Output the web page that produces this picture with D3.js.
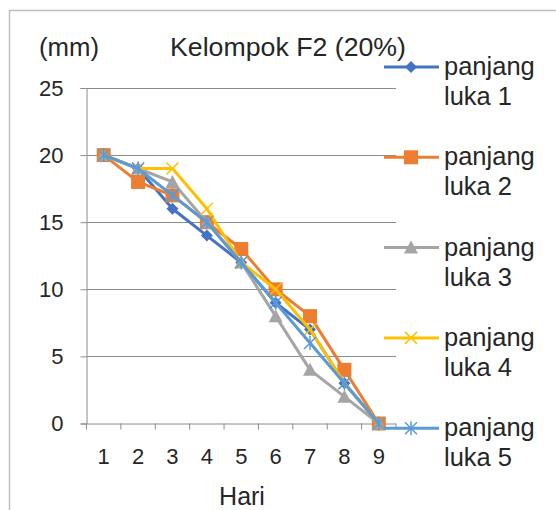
<!DOCTYPE html>
<html><head><meta charset="utf-8">
<script src="https://cdn.jsdelivr.net/npm/d3@7"></script>
<style>body{margin:0;background:#fff;} svg{display:block;}</style>
</head><body>
<script>
const categories = ["1","2","3","4","5","6","7","8","9"];
const yTicks = [0,5,10,15,20,25];
const seriesNames = ["panjang luka 1","panjang luka 2","panjang luka 3","panjang luka 4","panjang luka 5"];
const luka1 = [20,19,16,14,12,9,7,3,0];
const luka2 = [20,18,17,15,13,10,8,4,0];
const luka3 = [20,19,18,15,12,8,4,2,0];
const luka4 = [20,19,19,16,12,10,7,3,0];
const luka5 = [20,19,17,15,12,9,6,3,0];
const colors = ["#4472C4","#ED7D31","#A5A5A5","#FFC000","#5B9BD5"];
const symbols = ["diamond","square","triangle","x","star"];
const seriesVals = [luka1,luka2,luka3,luka4,luka5];

(function(){
const W=556,H=510;
const svg=d3.select("body").append("svg").attr("width",W).attr("height",H);
const font="Liberation Sans, Arial, sans-serif";
const txt="#262626";
// frame
svg.append("path").attr("d","M9.5,510 L9.5,10.5 L556,10.5").attr("fill","none").attr("stroke","#bfbfbf").attr("stroke-width",1.5);

const pL=86.5,pR=396,pT=88,pB=423.5;
const x=d3.scaleBand().domain(categories).range([pL,pR]);
const y=d3.scaleLinear().domain([0,25]).range([pB,pT]);

// gridlines
svg.append("g").selectAll("line").data(yTicks.filter(d=>d>0)).join("line")
 .attr("x1",pL).attr("x2",pR).attr("y1",d=>Math.round(y(d))+0.5).attr("y2",d=>Math.round(y(d))+0.5)
 .attr("stroke","#8c8c8c").attr("stroke-width",1);

// y axis
const yAx=svg.append("g").attr("transform",`translate(${pL},0)`)
 .call(d3.axisLeft(y).tickValues(yTicks).tickSize(6).tickPadding(17));
yAx.select(".domain").attr("stroke","#8c8c8c");
yAx.selectAll(".tick line").attr("stroke","#8c8c8c");
yAx.selectAll("text").attr("font-family",font).attr("font-size",22).attr("fill",txt);

// x axis
const xAx=svg.append("g").attr("transform",`translate(0,${pB})`)
 .call(d3.axisBottom(x).tickSize(0).tickPadding(25));
xAx.select(".domain").attr("stroke","#8c8c8c").attr("d",`M${pL},0.5H${pR}`);
xAx.selectAll("text").attr("font-family",font).attr("font-size",22).attr("fill",txt);
svg.append("g").selectAll("line").data(d3.range(categories.length+1)).join("line")
 .attr("x1",i=>pL+i*x.step()).attr("x2",i=>pL+i*x.step())
 .attr("y1",pB).attr("y2",pB+6).attr("stroke","#8c8c8c");

// titles
svg.append("text").attr("x",170).attr("y",56).attr("font-family",font).attr("font-size",25).attr("fill",txt)
 .attr("textLength",236).attr("lengthAdjust","spacingAndGlyphs").text("Kelompok F2 (20%)");
svg.append("text").attr("x",39).attr("y",56).attr("font-family",font).attr("font-size",25).attr("fill",txt)
 .attr("textLength",60).attr("lengthAdjust","spacingAndGlyphs").text("(mm)");
svg.append("text").attr("x",242).attr("y",505).attr("text-anchor","middle").attr("font-family",font).attr("font-size",25).attr("fill",txt).text("Hari");

function marker(g,type,color,cx,cy){
  if(type==="diamond"){
    g.append("path").attr("d",`M${cx},${cy-6}L${cx+6},${cy}L${cx},${cy+6}L${cx-6},${cy}Z`).attr("fill",color);
  } else if(type==="square"){
    g.append("rect").attr("x",cx-7).attr("y",cy-7).attr("width",14).attr("height",14).attr("fill",color);
  } else if(type==="triangle"){
    g.append("path").attr("d",`M${cx},${cy-7}L${cx+7},${cy+6}L${cx-7},${cy+6}Z`).attr("fill",color);
  } else if(type==="x"){
    g.append("path").attr("d",`M${cx-6},${cy-6}L${cx+6},${cy+6}M${cx-6},${cy+6}L${cx+6},${cy-6}`).attr("stroke",color).attr("stroke-width",1.5);
  } else {
    g.append("path").attr("d",`M${cx-6},${cy-6}L${cx+6},${cy+6}M${cx-6},${cy+6}L${cx+6},${cy-6}M${cx},${cy-7}L${cx},${cy+7}`).attr("stroke",color).attr("stroke-width",1.5);
  }
}

const line=d3.line().x((d,i)=>x(categories[i])+x.bandwidth()/2).y(d=>y(d));
seriesVals.forEach((vals,s)=>{
  const g=svg.append("g");
  g.append("path").datum(vals).attr("d",line).attr("fill","none").attr("stroke",colors[s]).attr("stroke-width",3).attr("stroke-linejoin","round");
  vals.forEach((v,i)=>marker(g,symbols[s],colors[s],x(categories[i])+x.bandwidth()/2,y(v)));
});

// legend
seriesNames.forEach((n,s)=>{
  const cy=67+s*90.3;
  const g=svg.append("g");
  g.append("line").attr("x1",384).attr("x2",439).attr("y1",cy).attr("y2",cy).attr("stroke",colors[s]).attr("stroke-width",3);
  marker(g,symbols[s],colors[s],411,cy);
  const parts=n.split(" ");
  const t=g.append("text").attr("font-family",font).attr("font-size",25.5).attr("fill",txt);
  t.append("tspan").attr("x",444).attr("y",cy+8).text(parts[0]);
  t.append("tspan").attr("x",444).attr("y",cy+38).text(parts[1]+" "+parts[2]);
});
})();
</script>
</body></html>
